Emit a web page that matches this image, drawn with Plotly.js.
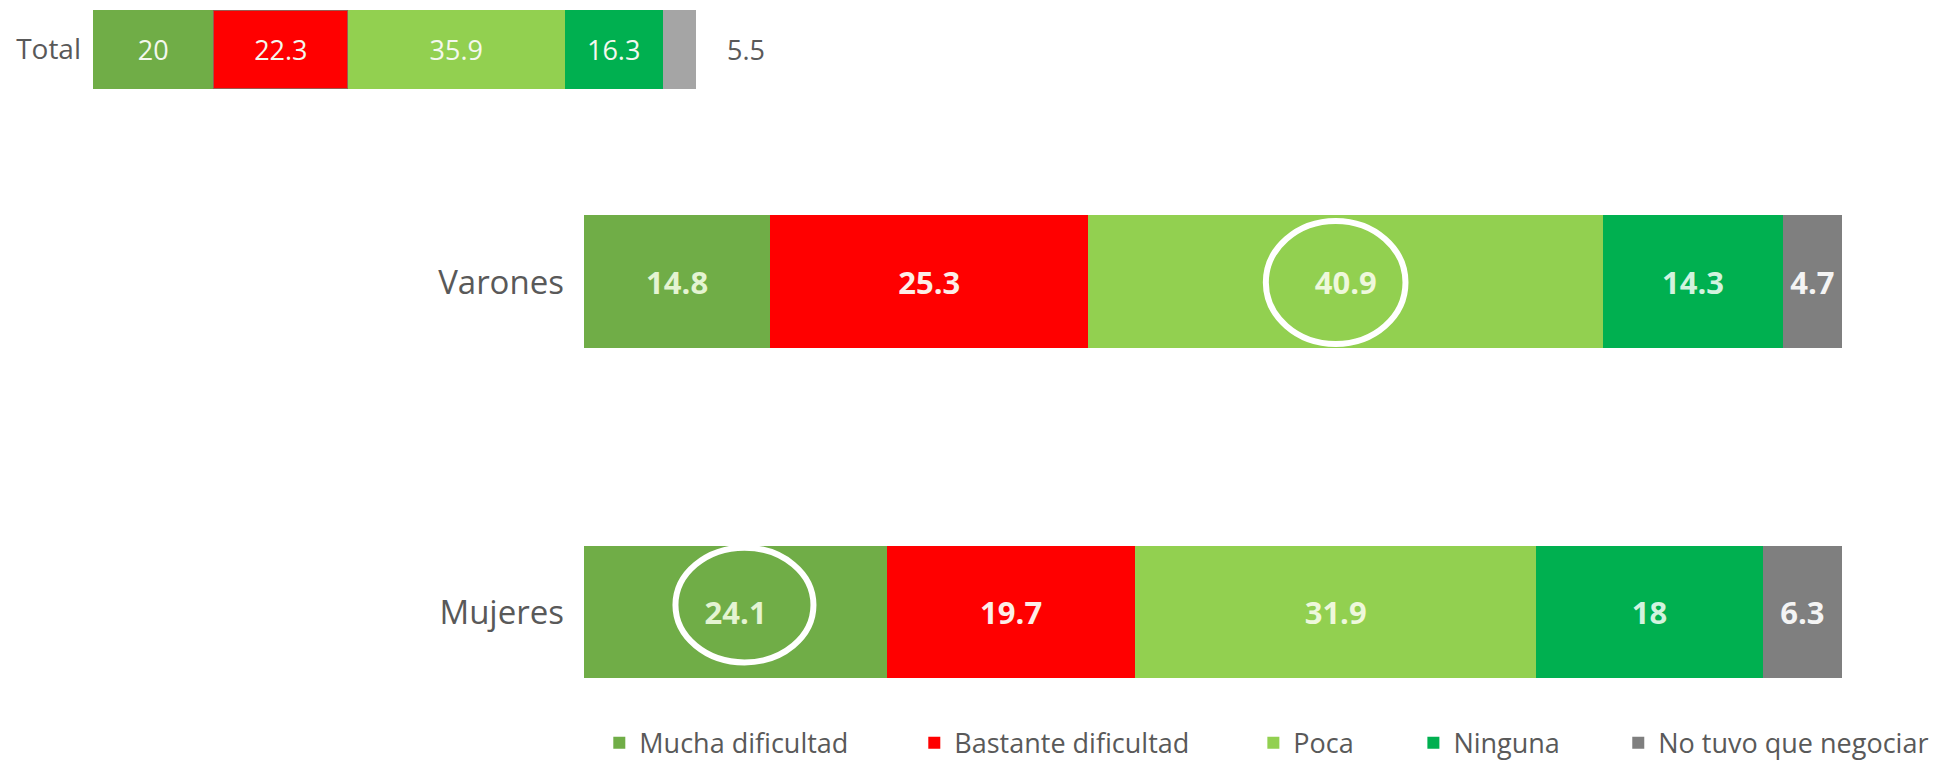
<!DOCTYPE html>
<html>
<head>
<meta charset="utf-8">
<script src="https://cdn.plot.ly/plotly-3.0.1.min.js"></script>
<style>html,body{margin:0;padding:0;background:#fff;}#chart{width:1942px;height:763px;}</style>
</head>
<body>
<div id="chart"></div>
<script>
// ---- Data ----
const groups = ['Varones', 'Mujeres'];
const seriesNames = ['Mucha dificultad', 'Bastante dificultad', 'Poca', 'Ninguna', 'No tuvo que negociar'];
const muchaDificultad = [14.8, 24.1];
const bastanteDificultad = [25.3, 19.7];
const poca = [40.9, 31.9];
const ninguna = [14.3, 18];
const noTuvoQueNegociar = [4.7, 6.3];
const totalCategory = ['Total'];
const totalValues = [20, 22.3, 35.9, 16.3, 5.5];

// ---- Styles ----
const mainColors = ['#70AD47', '#FF0000', '#92D050', '#00B050', '#7F7F7F'];
const totalColors = ['#70AD47', '#FF0000', '#92D050', '#00B050', '#A5A5A5'];
const mainTextColors = ['#e4f4d2', '#fdeee8', '#eef8dc', '#d2f3df', '#f4f4f4'];
const legendIds = ['legend', 'legend2', 'legend3', 'legend4', 'legend5'];
const legendX = [0.3086, 0.4708, 0.6454, 0.7278, 0.8333];

const mainSeries = [muchaDificultad, bastanteDificultad, poca, ninguna, noTuvoQueNegociar];

const traces = [];
mainSeries.forEach((vals, i) => {
  traces.push({
    type: 'bar', orientation: 'h',
    name: seriesNames[i],
    y: groups, x: vals,
    xaxis: 'x', yaxis: 'y',
    width: 0.403,
    marker: {color: mainColors[i], line: {width: 0}},
    text: vals.map(v => String(v)),
    textposition: 'inside', insidetextanchor: 'middle', textangle: 0,
    constraintext: 'none',
    textfont: {family: 'Open Sans', size: 31, color: mainTextColors[i], weight: 'bold'},
    legend: legendIds[i],
    showlegend: true,
    hoverinfo: 'x+name'
  });
});

totalValues.forEach((v, i) => {
  const isLast = i === totalValues.length - 1;
  traces.push({
    type: 'bar', orientation: 'h',
    name: seriesNames[i],
    y: totalCategory, x: [v],
    xaxis: 'x2', yaxis: 'y2',
    width: 1,
    marker: {color: totalColors[i], line: {width: i === 1 ? 1.5 : 0, color: '#9a5a50'}},
    text: isLast ? [''] : [String(v)],
    textposition: 'inside', insidetextanchor: 'middle', textangle: 0,
    constraintext: 'none',
    textfont: {family: 'Open Sans', size: 27, color: '#f4f8ee'},
    showlegend: false,
    hoverinfo: 'x+name'
  });
});

const totalSum = totalValues.reduce((a, b) => a + b, 0);

const layout = {
  width: 1942, height: 763,
  margin: {l: 0, r: 0, t: 0, b: 0, autoexpand: false},
  paper_bgcolor: '#ffffff', plot_bgcolor: 'rgba(0,0,0,0)',
  barmode: 'stack',
  showlegend: true,
  xaxis: {domain: [0.30072, 0.94851], range: [0, 100], visible: false, fixedrange: true},
  yaxis: {
    domain: [0, 1], range: [-0.4576, 1.8545], type: 'category',
    categoryorder: 'array', categoryarray: ['Mujeres', 'Varones'],
    showgrid: false, zeroline: false, showline: false, ticks: '',
    ticklabelstandoff: 19, automargin: false,
    tickfont: {family: 'Open Sans', size: 33, color: '#595959'}
  },
  xaxis2: {domain: [0.04789, 0.35839], range: [0, 100], visible: false, anchor: 'y2', fixedrange: true},
  yaxis2: {
    domain: [0.88336, 0.98689], range: [-0.5, 0.5], type: 'category', anchor: 'x2',
    showgrid: false, zeroline: false, showline: false, ticks: '',
    ticklabelstandoff: 11, automargin: false,
    tickfont: {family: 'Open Sans', size: 28, color: '#595959'}
  },
  annotations: [{
    xref: 'x2', yref: 'y2', x: totalSum, y: 0,
    xanchor: 'left', yanchor: 'middle', xshift: 29,
    text: String(totalValues[totalValues.length - 1]), showarrow: false,
    font: {family: 'Open Sans', size: 27, color: '#595959'}
  }],
  shapes: [
    {type: 'circle', xref: 'x', yref: 'y', x0: 54.2, x1: 65.3, y0: 0.812, y1: 1.185,
     line: {color: '#ffffff', width: 6}, fillcolor: 'rgba(0,0,0,0)'},
    {type: 'circle', xref: 'x', yref: 'y', x0: 7.27, x1: 18.24, y0: -0.153, y1: 0.195,
     line: {color: '#ffffff', width: 6}, fillcolor: 'rgba(0,0,0,0)'}
  ]
};

legendIds.forEach((id, i) => {
  layout[id] = {
    orientation: 'h', x: legendX[i], y: 0.026, xanchor: 'left', yanchor: 'middle',
    font: {family: 'Open Sans', size: 27, color: '#595959'},
    bgcolor: 'rgba(0,0,0,0)', borderwidth: 0, itemclick: false, itemdoubleclick: false
  };
});

Plotly.newPlot('chart', traces, layout, {displayModeBar: false, staticPlot: true});
</script>
</body>
</html>
